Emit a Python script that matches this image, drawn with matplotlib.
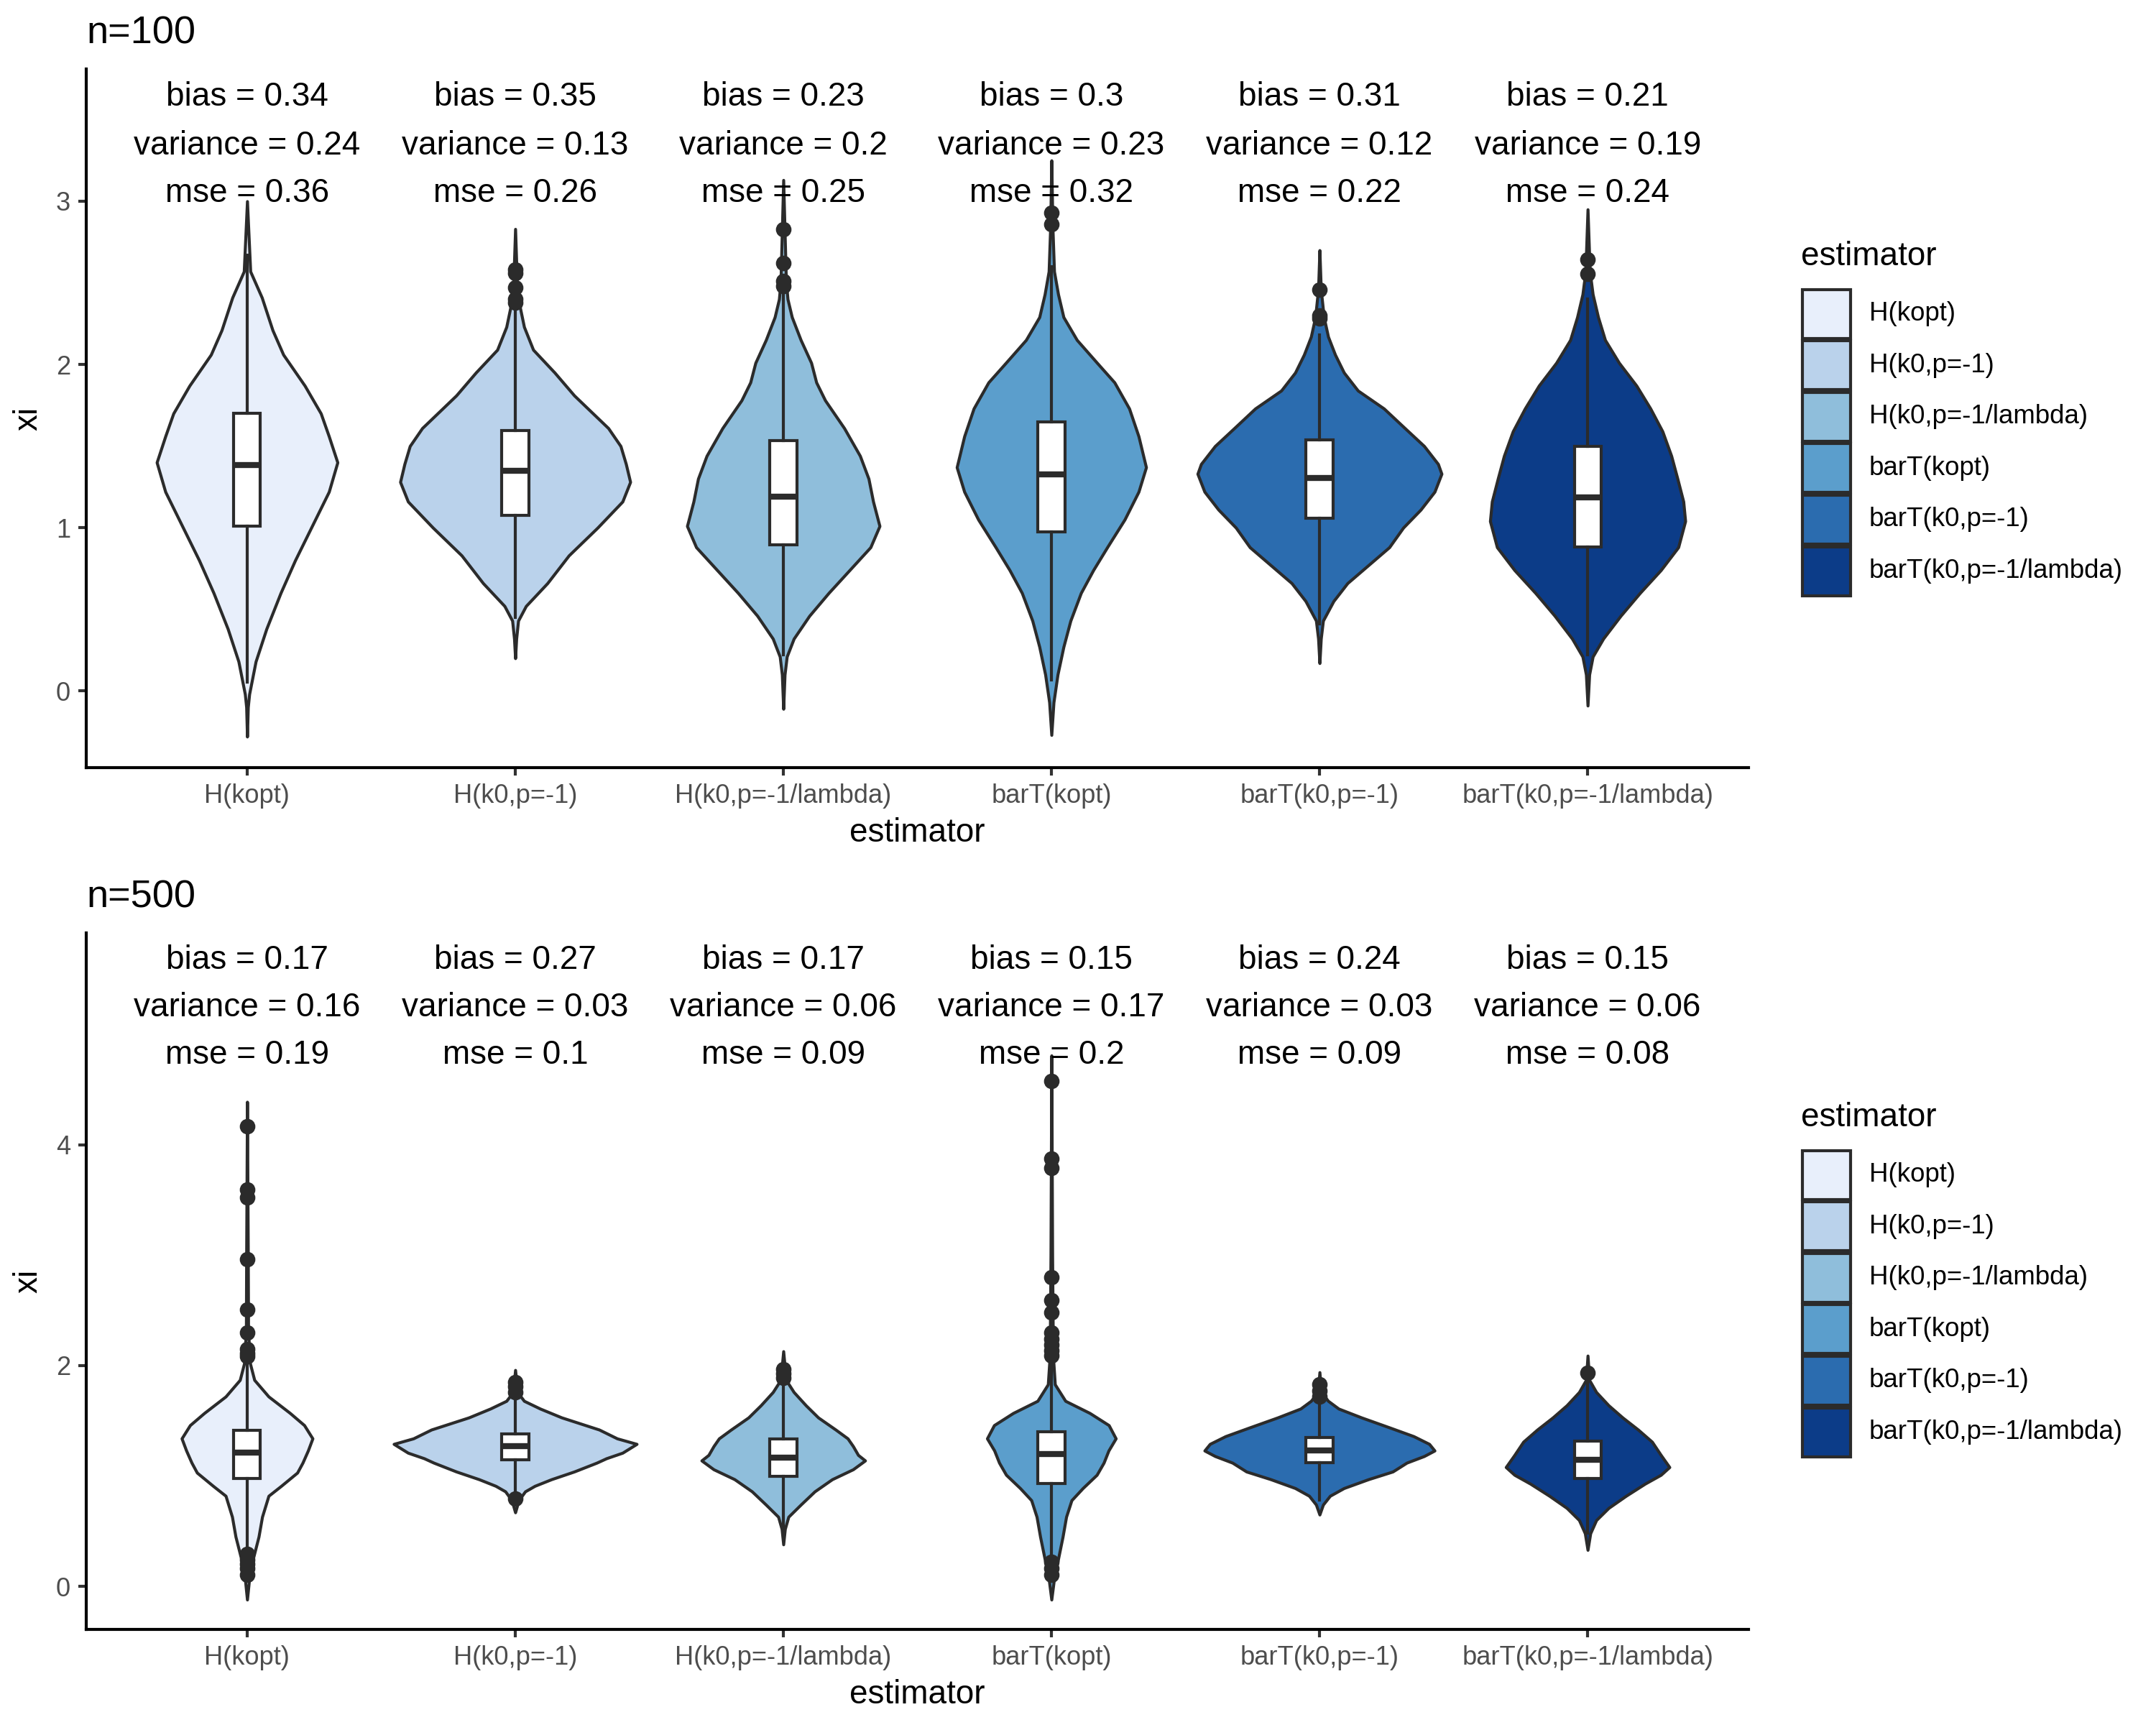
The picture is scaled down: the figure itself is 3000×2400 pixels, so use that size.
import matplotlib.pyplot as plt
from matplotlib.patches import Rectangle

plt.rcParams['font.family'] = ['Liberation Sans', 'DejaVu Sans']

# estimators and fill colours
estimators = ["H(kopt)", "H(k0,p=-1)", "H(k0,p=-1/lambda)",
              "barT(kopt)", "barT(k0,p=-1)", "barT(k0,p=-1/lambda)"]
fill_colors = ['#E8EFFB', '#BAD2EB', '#8FBEDB', '#5B9ECC', '#2B6CAF', '#0C3C88']
dark = '#2b2b2b'

# ---- n=100 ----
n100_bias = [0.34, 0.35, 0.23, 0.3, 0.31, 0.21]
n100_variance = [0.24, 0.13, 0.2, 0.23, 0.12, 0.19]
n100_mse = [0.36, 0.26, 0.25, 0.32, 0.22, 0.24]

n100_q1 = [1.009, 1.074, 0.897, 0.976, 1.057, 0.883]
n100_med = [1.383, 1.349, 1.192, 1.327, 1.304, 1.186]
n100_q3 = [1.703, 1.596, 1.534, 1.646, 1.540, 1.500]
n100_whislo = [0.055, 0.45, 0.22, 0.069, 0.41, 0.22]
n100_whishi = [2.67, 2.37, 2.45, 2.60, 2.18, 2.40]
n100_outliers = [
    [],
    [2.58, 2.56, 2.47, 2.40, 2.38],
    [2.83, 2.62, 2.51, 2.48],
    [2.93, 2.86],
    [2.46, 2.30, 2.28],
    [2.645, 2.553],
]

# violin outlines: y levels and half widths (category units)
n100_violin_y = [
    [3.00, 2.57, 2.41, 2.21, 2.06, 1.87, 1.70, 1.56, 1.40, 1.22, 1.02, 0.80, 0.60, 0.38, 0.18, -0.02, -0.10, -0.28],
    [2.83, 2.43, 2.34, 2.23, 2.09, 1.95, 1.81, 1.61, 1.50, 1.39, 1.28, 1.16, 1.00, 0.83, 0.66, 0.52, 0.43, 0.32, 0.20],
    [3.13, 2.51, 2.40, 2.29, 2.15, 2.01, 1.89, 1.78, 1.61, 1.44, 1.30, 1.16, 1.01, 0.88, 0.74, 0.60, 0.46, 0.32, 0.21, 0.10, -0.11],
    [3.25, 2.85, 2.57, 2.43, 2.29, 2.15, 2.01, 1.89, 1.73, 1.56, 1.37, 1.22, 1.05, 0.88, 0.74, 0.60, 0.43, 0.27, 0.10, -0.07, -0.27],
    [2.70, 2.46, 2.29, 2.17, 2.06, 1.95, 1.84, 1.73, 1.61, 1.50, 1.39, 1.33, 1.22, 1.11, 1.00, 0.88, 0.77, 0.66, 0.55, 0.43, 0.32, 0.17],
    [2.95, 2.57, 2.43, 2.29, 2.15, 2.01, 1.87, 1.73, 1.59, 1.44, 1.30, 1.16, 1.04, 0.88, 0.74, 0.60, 0.46, 0.32, 0.21, 0.10, -0.09],
]
n100_violin_w = [
    [0.0, 0.012, 0.055, 0.095, 0.135, 0.215, 0.275, 0.305, 0.337, 0.305, 0.245, 0.179, 0.125, 0.072, 0.032, 0.008, 0.003, 0.0],
    [0.0, 0.008, 0.019, 0.033, 0.067, 0.147, 0.220, 0.347, 0.393, 0.413, 0.429, 0.400, 0.307, 0.200, 0.120, 0.040, 0.011, 0.004, 0.0],
    [0.0, 0.010, 0.016, 0.032, 0.065, 0.104, 0.123, 0.156, 0.227, 0.286, 0.318, 0.335, 0.359, 0.325, 0.247, 0.169, 0.097, 0.039, 0.013, 0.005, 0.0],
    [0.0, 0.004, 0.010, 0.025, 0.045, 0.095, 0.170, 0.235, 0.290, 0.325, 0.353, 0.325, 0.273, 0.208, 0.156, 0.110, 0.071, 0.045, 0.023, 0.008, 0.0],
    [0.0, 0.005, 0.016, 0.032, 0.058, 0.091, 0.143, 0.240, 0.318, 0.390, 0.442, 0.455, 0.429, 0.377, 0.312, 0.260, 0.182, 0.104, 0.052, 0.013, 0.005, 0.0],
    [0.0, 0.008, 0.019, 0.039, 0.065, 0.117, 0.182, 0.234, 0.279, 0.312, 0.335, 0.357, 0.364, 0.338, 0.273, 0.195, 0.123, 0.058, 0.019, 0.006, 0.0],
]

# ---- n=500 ----
n500_bias = [0.17, 0.27, 0.17, 0.15, 0.24, 0.15]
n500_variance = [0.16, 0.03, 0.06, 0.17, 0.03, 0.06]
n500_mse = [0.19, 0.1, 0.09, 0.2, 0.09, 0.08]

n500_q1 = [0.977, 1.149, 0.995, 0.932, 1.119, 0.977]
n500_med = [1.213, 1.269, 1.168, 1.202, 1.232, 1.149]
n500_q3 = [1.411, 1.382, 1.333, 1.400, 1.351, 1.314]
n500_whislo = [0.33, 0.82, 0.50, 0.24, 0.78, 0.48]
n500_whishi = [2.05, 1.72, 1.85, 2.05, 1.70, 1.85]
n500_outliers = [
    [4.165, 3.592, 3.525, 2.963, 2.505, 2.299, 2.150, 2.112, 2.086, 0.295, 0.239, 0.201, 0.164, 0.107],
    [1.850, 1.812, 1.756, 0.793],
    [1.970, 1.925, 1.887],
    [4.578, 3.873, 3.791, 2.798, 2.592, 2.479, 2.299, 2.243, 2.187, 2.138, 2.093, 0.220, 0.164, 0.107],
    [1.831, 1.775, 1.719],
    [1.932],
]

n500_violin_y = [
    [4.39, 3.00, 2.32, 2.02, 1.87, 1.72, 1.57, 1.46, 1.34, 1.23, 1.12, 1.03, 0.91, 0.82, 0.63, 0.45, 0.26, 0.07, -0.12],
    [1.96, 1.76, 1.68, 1.61, 1.53, 1.42, 1.34, 1.29, 1.21, 1.16, 1.12, 1.04, 0.97, 0.91, 0.86, 0.78, 0.67],
    [2.13, 1.87, 1.76, 1.64, 1.53, 1.42, 1.34, 1.27, 1.19, 1.14, 1.06, 0.97, 0.86, 0.74, 0.63, 0.52, 0.38],
    [4.81, 3.00, 2.09, 1.83, 1.68, 1.57, 1.46, 1.34, 1.23, 1.12, 1.01, 0.89, 0.78, 0.63, 0.45, 0.26, 0.07, -0.12],
    [1.94, 1.76, 1.68, 1.61, 1.53, 1.44, 1.36, 1.29, 1.23, 1.18, 1.12, 1.04, 0.97, 0.89, 0.82, 0.74, 0.65],
    [2.09, 1.87, 1.76, 1.64, 1.53, 1.42, 1.31, 1.19, 1.08, 1.01, 0.93, 0.82, 0.71, 0.60, 0.48, 0.33],
]
n500_violin_w = [
    [0.0, 0.003, 0.004, 0.011, 0.027, 0.080, 0.160, 0.213, 0.244, 0.227, 0.207, 0.187, 0.127, 0.080, 0.056, 0.043, 0.023, 0.008, 0.0],
    [0.0, 0.008, 0.033, 0.093, 0.173, 0.313, 0.380, 0.453, 0.400, 0.340, 0.304, 0.220, 0.135, 0.073, 0.037, 0.013, 0.0],
    [0.0, 0.010, 0.039, 0.084, 0.130, 0.195, 0.240, 0.260, 0.279, 0.305, 0.260, 0.182, 0.117, 0.065, 0.019, 0.006, 0.0],
    [0.0, 0.003, 0.006, 0.013, 0.052, 0.143, 0.214, 0.240, 0.213, 0.195, 0.169, 0.117, 0.075, 0.055, 0.042, 0.026, 0.010, 0.0],
    [0.0, 0.006, 0.032, 0.071, 0.156, 0.260, 0.351, 0.409, 0.429, 0.390, 0.325, 0.273, 0.182, 0.091, 0.039, 0.013, 0.0],
    [0.0, 0.006, 0.032, 0.078, 0.130, 0.188, 0.240, 0.273, 0.305, 0.273, 0.214, 0.143, 0.078, 0.032, 0.010, 0.0],
]


def draw_panel(ax, title, vy, vw, q1, med, q3, lo, hi, outl, bias, var, mse, ylim, yticks, text_y):
    pos = list(range(1, len(estimators) + 1))
    for i, p in enumerate(pos):
        left = [p - w for w in vw[i]]
        right = [p + w for w in vw[i]]
        ax.fill_betweenx(vy[i], left, right, facecolor=fill_colors[i],
                         edgecolor=dark, linewidth=1.0, joinstyle='round', zorder=2)
    stats = []
    for i in range(len(pos)):
        stats.append(dict(med=med[i], q1=q1[i], q3=q3[i], whislo=lo[i], whishi=hi[i], fliers=outl[i]))
    ax.bxp(stats, positions=pos, widths=0.1, patch_artist=True, showcaps=False,
           manage_ticks=False,
           boxprops=dict(facecolor='white', edgecolor=dark, linewidth=1.0),
           whiskerprops=dict(color=dark, linewidth=1.0),
           medianprops=dict(color=dark, linewidth=2.0, solid_capstyle='butt'),
           flierprops=dict(marker='o', markerfacecolor=dark, markeredgecolor=dark, markersize=4.2))
    for i, p in enumerate(pos):
        ax.text(p, text_y[0], f"bias = {bias[i]:g}", ha='center', va='center', fontsize=11)
        ax.text(p, text_y[1], f"variance = {var[i]:g}", ha='center', va='center', fontsize=11)
        ax.text(p, text_y[2], f"mse = {mse[i]:g}", ha='center', va='center', fontsize=11)

    ax.set_xlim(0.4, 6.6)
    ax.set_ylim(*ylim)
    ax.set_xticks(pos)
    ax.set_xticklabels(estimators)
    ax.set_yticks(yticks)
    ax.set_xlabel('estimator', fontsize=11, labelpad=3)
    ax.set_ylabel('xi', fontsize=11, labelpad=4)
    ax.set_title(title, loc='left', fontsize=13, pad=8.5)
    for s in ['top', 'right']:
        ax.spines[s].set_visible(False)
    for s in ['left', 'bottom']:
        ax.spines[s].set_linewidth(1.0)
        ax.spines[s].set_color('black')
    ax.tick_params(length=2.75, width=1.0, color='#333333', labelcolor='#4D4D4D',
                   labelsize=8.7, pad=2.5)


def draw_legend(fig, title_py):
    fx = lambda px: px / 3000
    fy = lambda py: 1 - py / 2400
    fig.text(fx(2506), fy(title_py), 'estimator', fontsize=11, ha='left', va='center')
    key0 = title_py + 43.6
    for i, lab in enumerate(estimators):
        top = key0 + i * 71.6
        fig.add_artist(Rectangle((fx(2508), fy(top + 70)), 67 / 3000, 68 / 2400,
                                 facecolor=fill_colors[i], edgecolor=dark, linewidth=1.0,
                                 transform=fig.transFigure))
        fig.text(fx(2601), fy(top + 36), lab, fontsize=8.8, ha='left', va='center')


fig = plt.figure(figsize=(10, 8), dpi=300)
ax1 = fig.add_axes([0.04, 0.555, 0.771, 0.405])
ax2 = fig.add_axes([0.04, 0.05542, 0.771, 0.40375])

draw_panel(ax1, 'n=100', n100_violin_y, n100_violin_w, n100_q1, n100_med, n100_q3,
           n100_whislo, n100_whishi, n100_outliers, n100_bias, n100_variance, n100_mse,
           (-0.47, 3.81), [0, 1, 2, 3], [3.64, 3.34, 3.05])
draw_panel(ax2, 'n=500', n500_violin_y, n500_violin_w, n500_q1, n500_med, n500_q3,
           n500_whislo, n500_whishi, n500_outliers, n500_bias, n500_variance, n500_mse,
           (-0.39, 5.92), [0, 2, 4], [5.67, 5.24, 4.81])

draw_legend(fig, 357)
draw_legend(fig, 1555)

fig.savefig('out.png', dpi=300)
